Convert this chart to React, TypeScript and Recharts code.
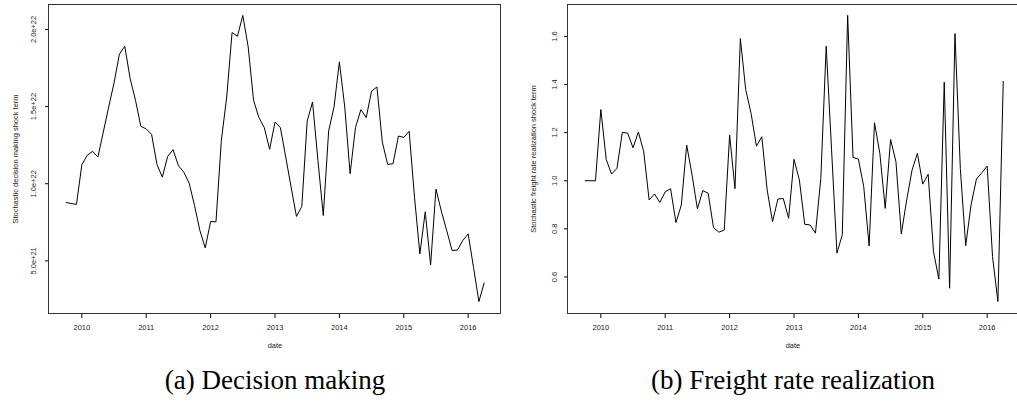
import React from "react";
import { LineChart, Line, XAxis, YAxis } from "recharts";

// monthly observations, Oct 2009 .. Apr 2016
const START_YEAR = 2009;
const START_MONTH = 10;

// decision making shock term, in units of 1e22
const decisionValues = [
  0.879, 0.872, 0.866, 1.123, 1.184, 1.21, 1.173, 1.335, 1.497, 1.653,
  1.84, 1.891, 1.682, 1.541, 1.372, 1.355, 1.32, 1.125, 1.043, 1.177,
  1.221, 1.117, 1.075, 1.004, 0.859, 0.697, 0.584, 0.755, 0.753, 1.281,
  1.562, 1.98, 1.956, 2.091, 1.887, 1.541, 1.429, 1.364, 1.223, 1.4,
  1.364, 1.173, 0.978, 0.788, 0.853, 1.407, 1.53, 1.151, 0.794, 1.342,
  1.497, 1.79, 1.497, 1.065, 1.364, 1.48, 1.429, 1.601, 1.627, 1.27,
  1.125, 1.13, 1.309, 1.3, 1.34, 0.913, 0.545, 0.818, 0.474, 0.965,
  0.822, 0.697, 0.567, 0.57, 0.632, 0.675, 0.458, 0.236, 0.359,
];

// freight rate realization shock term
const freightValues = [
  1.0, 1.0, 1.0, 1.296, 1.089, 1.028, 1.051, 1.201, 1.198, 1.137,
  1.203, 1.12, 0.92, 0.945, 0.91, 0.954, 0.967, 0.826, 0.899, 1.148,
  1.024, 0.883, 0.959, 0.948, 0.805, 0.786, 0.795, 1.19, 0.967, 1.591,
  1.379, 1.28, 1.144, 1.183, 0.961, 0.83, 0.924, 0.926, 0.844, 1.089,
  1.003, 0.819, 0.816, 0.782, 1.01, 1.559, 1.13, 0.699, 0.775, 1.688,
  1.097, 1.09, 0.975, 0.729, 1.241, 1.114, 0.885, 1.172, 1.079, 0.779,
  0.92, 1.044, 1.114, 0.986, 1.027, 0.705, 0.591, 1.41, 0.553, 1.612,
  1.05, 0.73, 0.9, 1.007, 1.033, 1.061, 0.685, 0.498, 1.415,
];

const yearTicks = [2010, 2011, 2012, 2013, 2014, 2015, 2016];
const decisionTicks = [0.5, 1.0, 1.5, 2.0];
const freightTicks = [0.6, 0.8, 1.0, 1.2, 1.4, 1.6];

const toSeries = (values: number[]) =>
  values.map((v, i) => {
    const m = START_MONTH - 1 + i;
    return { x: START_YEAR + Math.floor(m / 12) + (m % 12) / 12, v };
  });

const decisionData = toSeries(decisionValues);
const freightData = toSeries(freightValues);

const fmtDecision = (v: number) =>
  v < 1 ? `${(v * 10).toFixed(1)}e+21` : `${v.toFixed(1)}e+22`;
const fmtFreight = (v: number) => v.toFixed(1);

const AXIS_FONT = "'Liberation Sans', Arial, Helvetica, sans-serif";
const TEXT_COLOR = "#222";

const XTick = ({ x, y, payload }: any) => (
  <text
    x={x}
    y={y + 12}
    textAnchor="middle"
    fontSize={7.5}
    fontFamily={AXIS_FONT}
    fill={TEXT_COLOR}
  >
    {payload.value}
  </text>
);

const makeYTick =
  (fmt: (v: number) => string, gap: number) =>
  ({ x, y, payload }: any) => {
    const bx = x - gap;
    return (
      <text
        x={bx}
        y={y}
        transform={`rotate(-90 ${bx} ${y})`}
        textAnchor="middle"
        fontSize={7.5}
        fontFamily={AXIS_FONT}
        fill={TEXT_COLOR}
      >
        {fmt(payload.value)}
      </text>
    );
  };

function Panel({
  left,
  data,
  domain,
  ticks,
  fmt,
  gap,
}: {
  left: number;
  data: { x: number; v: number }[];
  domain: [number, number];
  ticks: number[];
  fmt: (v: number) => string;
  gap: number;
}) {
  return (
    <div style={{ position: "absolute", left, top: 0 }}>
      <LineChart
        width={501}
        height={353}
        data={data}
        margin={{ top: 4, right: 0, bottom: 0, left: 0 }}
      >
        <XAxis
          type="number"
          dataKey="x"
          domain={[2009.49, 2016.51]}
          ticks={yearTicks}
          height={40}
          axisLine={false}
          tickSize={5}
          tickMargin={0}
          tickLine={{ stroke: "#000" }}
          tick={<XTick />}
          allowDataOverflow
        />
        <YAxis
          type="number"
          domain={domain}
          ticks={ticks}
          width={49}
          axisLine={false}
          tickSize={4}
          tickMargin={0}
          tickLine={{ stroke: "#000" }}
          tick={makeYTick(fmt, gap)}
          allowDataOverflow
        />
        <Line
          type="linear"
          dataKey="v"
          stroke="#000"
          strokeWidth={1}
          dot={false}
          isAnimationActive={false}
        />
      </LineChart>
    </div>
  );
}

const boxStyle = (left: number): React.CSSProperties => ({
  position: "absolute",
  left,
  top: 4,
  width: 453,
  height: 310,
  border: "1px solid #333",
  boxSizing: "border-box",
  pointerEvents: "none",
});

const smallText: React.CSSProperties = {
  position: "absolute",
  fontFamily: AXIS_FONT,
  fontSize: 7.5,
  color: TEXT_COLOR,
  whiteSpace: "nowrap",
  lineHeight: "9px",
};

const vTitle = (cx: number, cy: number): React.CSSProperties => ({
  ...smallText,
  left: cx,
  top: cy,
  transform: "translate(-50%, -50%) rotate(-90deg)",
});

const hTitle = (cx: number, cy: number): React.CSSProperties => ({
  ...smallText,
  left: cx,
  top: cy,
  transform: "translate(-50%, -50%)",
});

const caption = (cx: number): React.CSSProperties => ({
  position: "absolute",
  left: cx,
  top: 367,
  transform: "translateX(-50%)",
  fontFamily: "'Liberation Serif', 'Times New Roman', serif",
  fontSize: 27,
  lineHeight: "27px",
  color: "#000",
  whiteSpace: "nowrap",
});

export default function App() {
  return (
    <div
      style={{
        position: "fixed",
        left: 0,
        top: 0,
        width: 1017,
        height: 403,
        overflow: "hidden",
        background: "#fff",
      }}
    >
      <Panel
        left={0}
        data={decisionData}
        domain={[0.162, 2.165]}
        ticks={decisionTicks}
        fmt={fmtDecision}
        gap={9.3}
      />
      <Panel
        left={519}
        data={freightData}
        domain={[0.45, 1.735]}
        ticks={freightTicks}
        fmt={fmtFreight}
        gap={7}
      />
      <div style={boxStyle(48)} />
      <div style={boxStyle(567)} />
      <div style={vTitle(15, 158.5)}>Stochastic decision making shock term</div>
      <div style={vTitle(533, 158.5)}>
        Stochastic freight rate realization shock term
      </div>
      <div style={hTitle(275, 345)}>date</div>
      <div style={hTitle(793, 345)}>date</div>
      <div style={caption(275)}>(a) Decision making</div>
      <div style={caption(793)}>(b) Freight rate realization</div>
    </div>
  );
}
